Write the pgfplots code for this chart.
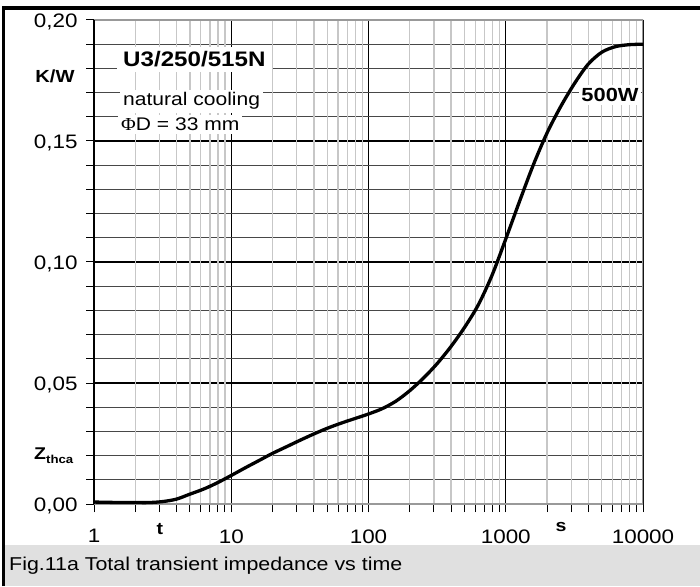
\documentclass[border=0pt]{standalone}
\usepackage{fontspec}
\setmainfont{Liberation Sans}[FakeStretch=1.15]
\newfontfamily\phifont{Liberation Serif}[FakeStretch=1.1]
\usepackage{pgfplots}
\pgfplotsset{compat=1.18}
\begin{document}
\begin{tikzpicture}[x=1pt,y=1pt]
\path[use as bounding box] (0,0) rectangle (700,586);
\fill[black!12] (5,0) rectangle (700,41);
\node[anchor=base west, inner sep=0pt, font=\fontsize{18.6}{20}\selectfont] at (9,16) {Fig.11a Total transient impedance vs time};
\draw[line width=4pt] (2,578) -- (700,578);
\draw[line width=3.5pt] (3.5,0) -- (3.5,580);
\begin{axis}[
  at={(94pt,82pt)}, anchor=south west,
  scale only axis, width=549pt, height=484pt,
  xmode=log, xmin=1, xmax=10000, ymin=0, ymax=0.2,
  xtick={1,10,100,1000,10000},
  xticklabels={1,10,100,1000,10000},
  ytick={0,0.05,0.1,0.15,0.2},
  yticklabels={{0,00},{0,05},{0,10},{0,15},{0,20}},
  minor ytick={0.01,0.02,0.03,0.04,0.06,0.07,0.08,0.09,0.11,0.12,0.13,0.14,0.16,0.17,0.18,0.19},
  extra x ticks={2,3,4,5,6,7,8,9,20,30,40,50,60,70,80,90,200,300,400,500,600,700,800,900,2000,3000,4000,5000,6000,7000,8000,9000},
  extra x tick labels={},
  extra x tick style={major tick length=0pt, grid=major, major grid style={draw=black!22, line width=1.3pt}},
  xmajorgrids, ymajorgrids, yminorgrids,
  major grid style={black, line width=1.3pt},
  minor grid style={black!72, line width=0.9pt},
  tick align=outside, tick pos=left, major tick length=8pt, minor tick length=8pt,
  every tick/.style={black, line width=1pt},
  axis line style={draw=none},
  ticklabel style={font=\fontsize{19.5}{20}\selectfont},
  xticklabel style={yshift=-14pt},
  yticklabel style={xshift=-5pt, yshift=-2pt},
  /pgf/number format/assume math mode=true,
]
\draw[black!40, line width=1.3pt] (rel axis cs:0,0) -- (rel axis cs:1,0) -- (rel axis cs:1,1) -- (rel axis cs:0,1);
\draw[black, line width=2pt] (rel axis cs:0,0) -- (rel axis cs:0,1);
\addplot[black, line width=3.3pt, smooth] coordinates {
(1,0.0008) (1.259,0.0007) (1.585,0.0006) (1.995,0.0006) (2.512,0.0006) (3.162,0.0010)
(3.981,0.0020) (5.012,0.0041) (6.310,0.0062) (7.943,0.0088)
(10,0.0118) (12.59,0.0149) (15.85,0.0179) (19.95,0.0209) (25.12,0.0236) (31.62,0.0263)
(39.81,0.0289) (50.12,0.0313) (63.10,0.0334) (79.43,0.0353)
(100,0.0372) (125.9,0.0394) (158.5,0.0425) (199.5,0.0468) (251.2,0.0520) (316.2,0.0580)
(398.1,0.0650) (501.2,0.0730) (631.0,0.0823) (794.3,0.0945)
(1000,0.1095) (1259,0.1250) (1585,0.1400) (1995,0.1532) (2512,0.1642) (3162,0.1737)
(3981,0.1817) (5012,0.1867) (6310,0.1890) (7943,0.1898) (10000,0.1900)
};
\end{axis}
\node[font=\bfseries\fontsize{17.5}{18}\selectfont, inner sep=0pt] at (55,510) {K/W};
\node[anchor=west, inner sep=0pt, font=\bfseries\fontsize{17}{18}\selectfont] at (34,130) {Z\raisebox{-4pt}{\fontsize{11.5}{12}\selectfont thca}};
\node[font=\bfseries\fontsize{17}{18}\selectfont, inner sep=0pt] at (160,57) {t};
\node[font=\bfseries\fontsize{17}{18}\selectfont, inner sep=0pt] at (561,59) {s};
\node[anchor=west, fill=white, inner xsep=6pt, inner ysep=5pt, font=\bfseries\fontsize{21}{22}\selectfont] at (117,526.5) {U3/250/515N};
\node[anchor=base west, fill=white, inner xsep=3pt, inner ysep=3pt, font=\fontsize{18.3}{20}\selectfont] at (120,480) {natural cooling};
\node[anchor=base west, fill=white, inner xsep=3pt, inner ysep=3pt, font=\fontsize{18.3}{20}\selectfont] at (118,455) {{\phifont Φ}D = 33 mm};
\node[fill=white, inner xsep=2pt, inner ysep=3pt, font=\bfseries\fontsize{19}{20}\selectfont] at (610,491) {500W};
\end{tikzpicture}
\end{document}
